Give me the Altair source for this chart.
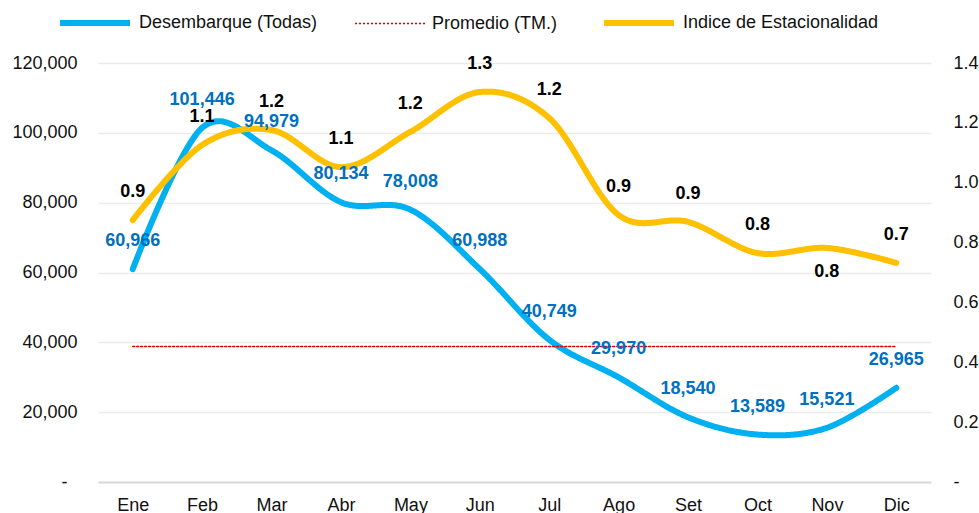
import altair as alt
import pandas as pd

meses = ["Ene", "Feb", "Mar", "Abr", "May", "Jun", "Jul", "Ago", "Set", "Oct", "Nov", "Dic"]
desembarque = [60966, 101446, 94979, 80134, 78008, 60988, 40749, 29970, 18540, 13589, 15521, 26965]
indice = [0.875, 1.126, 1.176, 1.052, 1.17, 1.303, 1.216, 0.892, 0.869, 0.765, 0.782, 0.732]
promedio = [38800] * 12

S_D = "Desembarque (Todas)"
S_P = "Promedio (TM.)"
S_I = "Indice de Estacionalidad"

df = pd.DataFrame({"mes": meses, "d": desembarque, "p": promedio, "i": indice})

FONT = "Liberation Sans"
x_enc = alt.X("mes:N", sort=meses, scale=alt.Scale(type="point", padding=0.5),
              axis=alt.Axis(title=None, labelAngle=0, ticks=False, grid=False,
                            domainColor="#D9D9D9", domainWidth=2, labelPadding=14,
                            labelFontSize=18, labelFont=FONT, labelColor="#111111"))

series_dom = [S_D, S_P, S_I]
color = alt.Color("serie:N", scale=alt.Scale(domain=series_dom, range=["#00B0F0", "#E00000", "#FFC000"]),
                  legend=alt.Legend(title=None))
dash = alt.StrokeDash("serie:N", scale=alt.Scale(type="ordinal", domain=series_dom,
                                                 range=[[1, 0], [2, 2], [1, 0]]),
                      legend=alt.Legend(title=None))
width = alt.StrokeWidth("serie:N", scale=alt.Scale(type="ordinal", domain=series_dom, range=[6, 1.5, 6]),
                        legend=alt.Legend(title=None))

yl_scale = alt.Scale(domain=[0, 120000], nice=False, zero=True)
yr_scale = alt.Scale(domain=[0, 1.4], nice=False, zero=True)

base = alt.Chart(df)

label_expr = f"datum.key == 'd' ? '{S_D}' : (datum.key == 'p' ? '{S_P}' : '{S_I}')"

left_lines = base.transform_fold(["d", "p"], as_=["key", "valor"]).transform_calculate(
    serie=label_expr
).mark_line(interpolate="cardinal", strokeCap="round").encode(
    x=x_enc,
    y=alt.Y("valor:Q", scale=yl_scale,
            axis=alt.Axis(title=None, orient="left", values=[0, 20000, 40000, 60000, 80000, 100000, 120000],
                          labelExpr="datum.value == 0 ? '-' : format(datum.value, ',.0f')",
                          grid=True, gridColor="#EBEBEB", gridWidth=1.5, domain=False, ticks=False,
                          labelPadding={"condition": {"test": "datum.value == 0", "value": 31}, "value": 21},
                          labelFontSize=18, labelFont=FONT, labelColor="#111111")),
    color=color, strokeDash=dash, strokeWidth=width,
)

right_line = base.transform_fold(["i"], as_=["key", "valor"]).transform_calculate(
    serie=label_expr
).mark_line(interpolate="cardinal", strokeCap="round").encode(
    x=x_enc,
    y=alt.Y("valor:Q", scale=yr_scale,
            axis=alt.Axis(title=None, orient="right", values=[0, 0.2, 0.4, 0.6, 0.8, 1.0, 1.2, 1.4],
                          labelExpr="datum.value == 0 ? '-' : format(datum.value, '.1f')",
                          grid=False, domain=False, ticks=False, labelAlign="left",
                          labelPadding=22, labelFontSize=18, labelFont=FONT, labelColor="#111111")),
    color=color, strokeDash=dash, strokeWidth=width,
)

left_text = base.mark_text(font=FONT, fontSize=18, fontWeight="bold", color="#0070C0",
                           baseline="middle", dy=-28).encode(
    x=x_enc,
    y=alt.Y("d:Q", scale=yl_scale, axis=None),
    text=alt.Text("d:Q", format=",.0f"),
)

right_text = base.transform_filter("datum.mes != 'Nov'").mark_text(
    font=FONT, fontSize=18, fontWeight="bold", color="#000000", baseline="middle", dy=-28).encode(
    x=x_enc,
    y=alt.Y("i:Q", scale=yr_scale, axis=None),
    text=alt.Text("i:Q", format=".1f"),
)

right_text_below = base.transform_filter("datum.mes == 'Nov'").mark_text(
    font=FONT, fontSize=18, fontWeight="bold", color="#000000", baseline="middle", dy=24).encode(
    x=x_enc,
    y=alt.Y("i:Q", scale=yr_scale, axis=None),
    text=alt.Text("i:Q", format=".1f"),
)

chart = alt.layer(left_lines, right_line, left_text, right_text, right_text_below).resolve_scale(
    y="independent"
).properties(
    width=833, height=419,
    autosize=alt.AutoSizeParams(type="none"),
    padding={"left": 98, "top": 63, "right": 48, "bottom": 31},
).configure_view(stroke=None).configure_legend(
    orient="none", legendX=-41, legendY=-78, direction="horizontal",
    symbolType="stroke", symbolSize=4900, labelFontSize=18, labelFont=FONT, labelColor="#111111",
    columnPadding=34, labelOffset=6, labelLimit=400,
)

chart.save("out.html", embed_options={"renderer": "svg", "actions": False})
